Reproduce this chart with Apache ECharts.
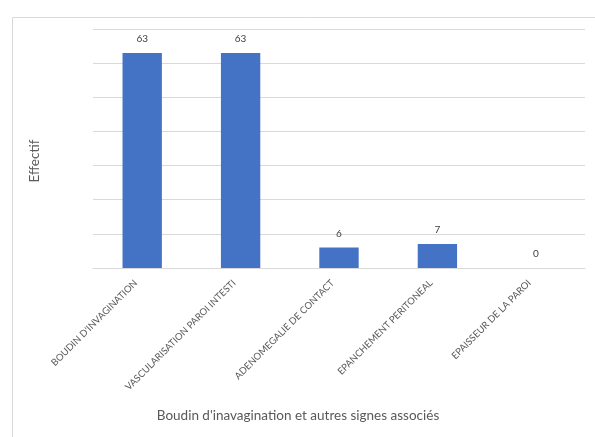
<!DOCTYPE html>
<html>
<head>
<meta charset="utf-8">
<script src="https://cdn.jsdelivr.net/npm/echarts@6/dist/echarts.min.js"></script>
<style>html,body{margin:0;padding:0;background:#fff}#c{width:595px;height:437px}</style>
</head>
<body>
<div id="c"></div>
<script>
const categories = ["BOUDIN D'INVAGINATION", "VASCULARISATION PAROI INTESTI", "ADENOMEGALIE DE CONTACT", "EPANCHEMENT PERITONEAL", "EPAISSEUR DE LA PAROI"];
const values = [63, 63, 6, 7, 0];
const xTitle = "Boudin d'inavagination et autres signes associés";
const yTitle = "Effectif";

const chart = echarts.init(document.getElementById('c'), null, {renderer: 'canvas'});
const font = 'Lato, "Open Sans", sans-serif';
chart.setOption({
  animation: false,
  backgroundColor: '#fff',
  graphic: [{
    type: 'rect', left: 10, top: 15, z: -1,
    shape: {width: 600, height: 440},
    style: {fill: 'none', stroke: '#d9d9d9', lineWidth: 1}
  }, {
    type: 'text', x: 298, y: 416,
    style: {text: xTitle, fill: '#595959', font: '13.5px ' + font, textAlign: 'center', textVerticalAlign: 'middle'}
  }, {
    type: 'text', x: 35, y: 161, rotation: Math.PI / 2,
    style: {text: yTitle, fill: '#595959', font: '13.5px ' + font, textAlign: 'center', textVerticalAlign: 'middle'}
  }],
  grid: {left: 93, right: 10, top: 29, bottom: 169, containLabel: false},
  xAxis: {
    type: 'category', data: categories,
    axisLine: {lineStyle: {color: '#d9d9d9'}},
    axisTick: {show: false},
    axisLabel: {rotate: 45, interval: 0, color: '#595959', fontSize: 9.5, fontFamily: font, margin: 7, padding: [0, 9, 0, 0]}
  },
  yAxis: {
    type: 'value', min: 0, max: 70, interval: 10,
    axisLabel: {show: false},
    axisLine: {show: false},
    axisTick: {show: false},
    splitLine: {lineStyle: {color: '#d9d9d9', width: 1}}
  },
  series: [{
    type: 'bar', data: values, barWidth: '40%',
    itemStyle: {color: '#4472c4'},
    label: {show: true, position: 'top', distance: 9, color: '#404040', fontSize: 10, fontFamily: font}
  }]
});
</script>
</body>
</html>
